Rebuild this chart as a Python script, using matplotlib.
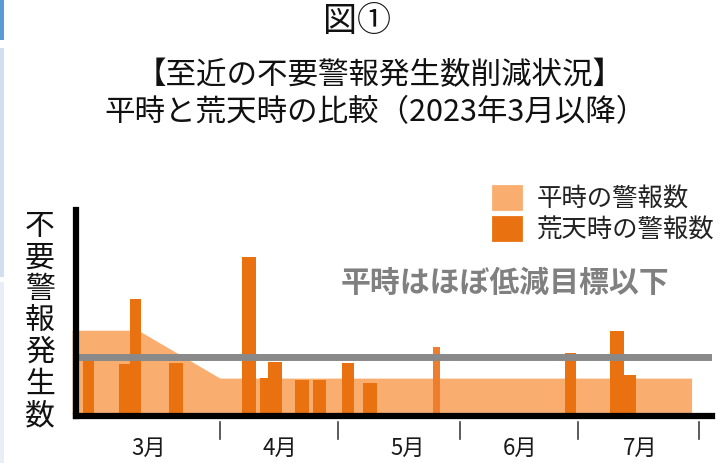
import matplotlib
matplotlib.use("Agg")
import matplotlib.pyplot as plt
from matplotlib.patches import Patch, Rectangle
import matplotlib.transforms as mtransforms

plt.rcParams['font.family'] = ['Noto Sans CJK JP', 'DejaVu Sans']

# ---- data (x = days since 1 March 2023, y = alarm count in arbitrary units) ----
normal_days = [-6.6, 10.2, 31.0, 151.0]
normal_values = [14.7, 14.7, 6.3, 6.3]

storm_days = [-2.4, 6.9, 9.5, 19.8, 38.4, 42.4, 45.0, 51.9, 56.4, 63.6, 69.2, 86.1, 120.2, 132.1, 135.2]
storm_values = [9.5, 8.8, 20.2, 8.9, 27.5, 6.3, 9.1, 6.0, 6.0, 8.9, 5.4, 11.8, 10.7, 14.6, 6.8]

target_value = 10.0

month_boundaries = [31, 61, 92, 122, 153]
month_labels = ['3月', '4月', '5月', '6月', '7月']
month_label_days = [12.8, 46.2, 78.9, 107.4, 137.9]

legend_labels = ['平時の警報数', '荒天時の警報数']
title_main = '図①'
title_sub1 = '【至近の不要警報発生数削減状況】'
title_sub2 = '平時と荒天時の比較（2023年3月以降）'
ylabel = '不要警報発生数'
note = '平時はほぼ低減目標以下'

# ---- styles ----
c_light = '#F9AE6F'
c_dark = '#E97110'
c_dark2 = '#EE7E2E'
c_grey = '#898989'

W, H = 721, 463
fig = plt.figure(figsize=(W / 100, H / 100), dpi=100)
fig.patch.set_facecolor('white')

# left decorative strip
fig.patches.append(Rectangle((0, 1 - 40 / H), 4 / W, 40 / H, transform=fig.transFigure,
                             facecolor='#5B9BD5', edgecolor='none'))
fig.patches.append(Rectangle((0, 1 - 277 / H), 4 / W, (277 - 48) / H, transform=fig.transFigure,
                             facecolor='#D3DFF1', edgecolor='none'))
fig.patches.append(Rectangle((0, 0), 4 / W, (H - 282) / H, transform=fig.transFigure,
                             facecolor='#E8EEF8', edgecolor='none'))

ax_left, ax_right, ax_bottom, ax_top = 76.3, 712, 416, 210
ax = fig.add_axes([ax_left / W, (H - ax_bottom) / H, (ax_right - ax_left) / W, (ax_bottom - ax_top) / H])
ax.set_xlim(-5.52, 156.2)
ax.set_ylim(-0.35, 35.79)

ax.fill_between(normal_days, 0, normal_values, color=c_light, linewidth=0, zorder=1, clip_on=False)

widths = [2.8, 3.0, 2.8, 3.5, 3.5, 2.6, 3.5, 3.5, 3.3, 3.0, 3.5, 1.8, 2.8, 3.5, 3.3]
colors = [c_dark] * len(storm_days)
colors[11] = c_dark2
ax.bar(storm_days, storm_values, width=widths, color=colors, linewidth=0, zorder=2)

ax.axhline(target_value, color=c_grey, linewidth=5.0, zorder=3, xmin=0.003)

for s in ['top', 'right']:
    ax.spines[s].set_visible(False)
ax.spines['left'].set_linewidth(4.5)
ax.spines['bottom'].set_linewidth(4.5)
ax.spines['left'].set_zorder(5)
ax.spines['bottom'].set_zorder(5)
ax.set_xticks([])
ax.set_yticks([])

trans = mtransforms.blended_transform_factory(ax.transData, ax.transAxes)
for b in month_boundaries:
    ax.plot([b, b], [-0.03, -0.11], transform=trans, color='#404040', linewidth=1.2, clip_on=False)
for d, lab in zip(month_label_days, month_labels):
    ax.text(d, -0.155, lab, transform=trans, ha='center', va='center', fontsize=16, color='#1a1a1a')

# titles
fig.text(357 / W, 1 - 22 / H, title_main, ha='center', va='center', fontsize=24.5, color='#111111')
fig.text(380 / W, 1 - 76 / H, title_sub1, ha='center', va='center', fontsize=22, color='#111111')
fig.text(376 / W, 1 - 113 / H, title_sub2, ha='center', va='center', fontsize=22, color='#111111')

# vertical y label
fig.text(40 / W, 1 - 321 / H, '\n'.join(ylabel), ha='center', va='center', fontsize=21.5,
         color='#111111', linespacing=1.02)

# note
fig.text(505 / W, 1 - 283 / H, note, ha='center', va='center', fontsize=21.5, fontweight='bold',
         color='#808080')

handles = [Patch(facecolor=c_light, edgecolor=c_light, linewidth=2, joinstyle='round'),
           Patch(facecolor=c_dark, edgecolor=c_dark, linewidth=2, joinstyle='round')]
leg = ax.legend(handles, legend_labels, loc='upper left', bbox_to_anchor=(493 / W, 1 - 186 / H),
                bbox_transform=fig.transFigure, frameon=False, fontsize=18.3, handlelength=1.1,
                handleheight=1.0, handletextpad=0.6, labelspacing=0.2, borderpad=0, borderaxespad=0)
for t in leg.get_texts():
    t.set_color('#222222')

fig.savefig('out.png', dpi=100)
